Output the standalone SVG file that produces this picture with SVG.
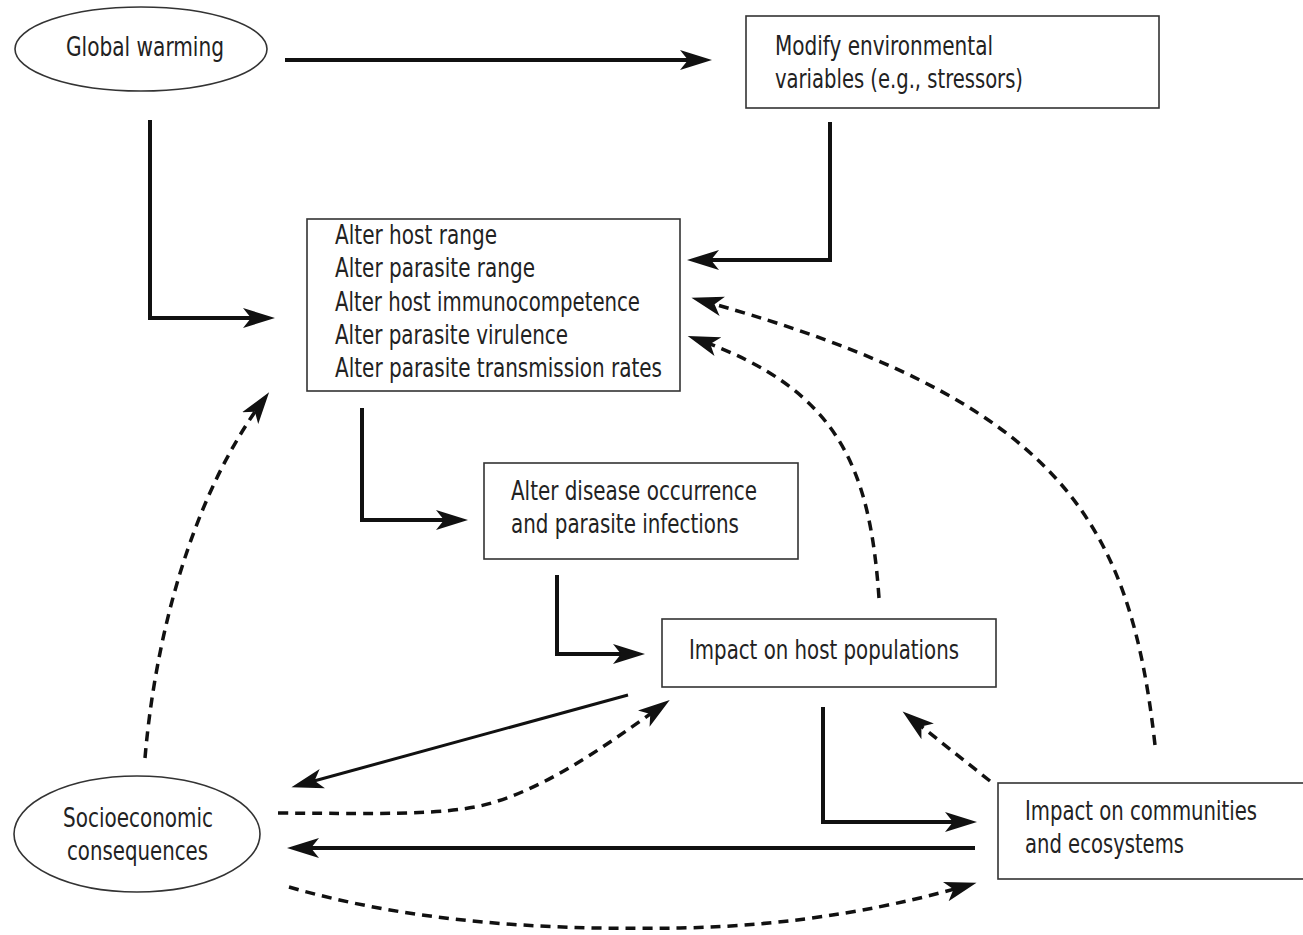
<svg xmlns="http://www.w3.org/2000/svg" width="1303" height="935" viewBox="0 0 1303 935">
<style>
.box{fill:#fff;stroke:#333;stroke-width:1.6}
.ell{fill:#fff;stroke:#333;stroke-width:1.6}
.t{font-family:"Liberation Sans Narrow","DejaVu Sans Condensed","Liberation Sans",sans-serif;font-size:26px;fill:#222}
.s{fill:none;stroke:#111;stroke-width:4;marker-end:url(#ah)}
.thin{fill:none;stroke:#111;stroke-width:3;marker-end:url(#ah)}
.d{fill:none;stroke:#111;stroke-width:3.5;stroke-dasharray:10 7;marker-end:url(#ah)}
</style>
<defs>
<marker id="ah" markerUnits="userSpaceOnUse" markerWidth="34" markerHeight="22" viewBox="0 -11 34 22" refX="20" refY="0" orient="auto">
<path d="M32,0 L0,-10 L8,0 L0,10 Z" fill="#111"/>
</marker>
</defs>
<rect width="1303" height="935" fill="#fff"/>
<g id="connectors">
<path class="s" d="M285,60 H700"/>
<path class="s" d="M150,120 V318 H263"/>
<path class="s" d="M830,122 V260 H699"/>
<path class="s" d="M362,408 V520 H456"/>
<path class="s" d="M557,575 V654 H633"/>
<path class="s" d="M823,707 V822 H965"/>
<path class="s" d="M975,848 H299"/>
<path class="thin" d="M628,695 L303,784"/>
<path class="d" d="M278,813 C400,814 440,814 480,806 C540,792 600,750 660,707"/>
<path class="d" d="M289,887 C420,925 560,930 680,928 C800,926 900,905 965,886"/>
<path class="d" d="M145,758 C155,640 190,500 262,402"/>
<path class="d" d="M879,598 C870,470 840,390 699,340"/>
<path class="d" d="M1155,745 C1130,520 1060,400 703,301"/>
<path class="d" d="M990,781 L912,719"/>
</g>
<g id="global-warming">
<ellipse class="ell" cx="141" cy="49" rx="126" ry="42"/>
<text class="t" x="66" y="56" textLength="158" lengthAdjust="spacingAndGlyphs">Global warming</text>
</g>
<g id="modify-env">
<rect class="box" x="746" y="16" width="413" height="92"/>
<text class="t" x="775" y="55" textLength="218" lengthAdjust="spacingAndGlyphs">Modify environmental</text>
<text class="t" x="775" y="88" textLength="248" lengthAdjust="spacingAndGlyphs">variables (e.g., stressors)</text>
</g>
<g id="alter">
<rect class="box" x="307" y="219" width="373" height="172"/>
<text class="t" x="335" y="244" textLength="162" lengthAdjust="spacingAndGlyphs">Alter host range</text>
<text class="t" x="335" y="277" textLength="200" lengthAdjust="spacingAndGlyphs">Alter parasite range</text>
<text class="t" x="335" y="311" textLength="305" lengthAdjust="spacingAndGlyphs">Alter host immunocompetence</text>
<text class="t" x="335" y="344" textLength="233" lengthAdjust="spacingAndGlyphs">Alter parasite virulence</text>
<text class="t" x="335" y="377" textLength="327" lengthAdjust="spacingAndGlyphs">Alter parasite transmission rates</text>
</g>
<g id="disease">
<rect class="box" x="484" y="463" width="314" height="96"/>
<text class="t" x="511" y="500" textLength="246" lengthAdjust="spacingAndGlyphs">Alter disease occurrence</text>
<text class="t" x="511" y="533" textLength="228" lengthAdjust="spacingAndGlyphs">and parasite infections</text>
</g>
<g id="host-populations">
<rect class="box" x="662" y="619" width="334" height="68"/>
<text class="t" x="689" y="659" textLength="270" lengthAdjust="spacingAndGlyphs">Impact on host populations</text>
</g>
<g id="communities">
<rect class="box" x="998" y="783" width="320" height="96"/>
<text class="t" x="1025" y="820" textLength="232" lengthAdjust="spacingAndGlyphs">Impact on communities</text>
<text class="t" x="1025" y="853" textLength="159" lengthAdjust="spacingAndGlyphs">and ecosystems</text>
</g>
<g id="socioeconomic">
<ellipse class="ell" cx="137" cy="834" rx="123" ry="58"/>
<text class="t" x="63" y="827" textLength="150" lengthAdjust="spacingAndGlyphs">Socioeconomic</text>
<text class="t" x="67" y="860" textLength="141" lengthAdjust="spacingAndGlyphs">consequences</text>
</g>
</svg>
